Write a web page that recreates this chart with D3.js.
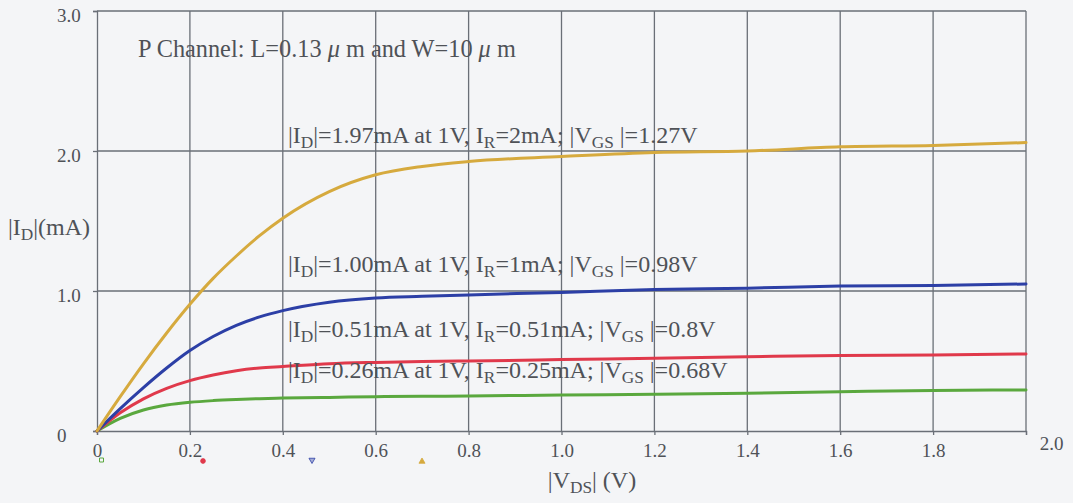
<!DOCTYPE html>
<html>
<head>
<meta charset="utf-8">
<script src="https://cdn.jsdelivr.net/npm/d3@7/dist/d3.min.js"></script>
<style>
  html, body { margin: 0; padding: 0; background: #f4f5f7; }
  svg { display: block; }
  text { font-family: "Liberation Serif", "Times New Roman", serif; }
</style>
</head>
<body>
<svg id="chart" width="1073" height="503"></svg>
<script>
// ---- data ----
const vds = [0, 0.05, 0.1, 0.15, 0.2, 0.25, 0.3, 0.35, 0.4, 0.5, 0.6, 0.7, 0.8, 1.0, 1.2, 1.4, 1.6, 1.8, 2.0];
const idOrange = [0, 0.245, 0.48, 0.70, 0.905, 1.09, 1.25, 1.395, 1.52, 1.71, 1.83, 1.89, 1.925, 1.96, 1.99, 2.00, 2.03, 2.04, 2.06];
const idBlue   = [0, 0.16, 0.31, 0.45, 0.575, 0.675, 0.755, 0.815, 0.86, 0.92, 0.95, 0.962, 0.972, 0.99, 1.01, 1.02, 1.035, 1.04, 1.05];
const idRed    = [0, 0.13, 0.23, 0.305, 0.36, 0.40, 0.43, 0.45, 0.46, 0.48, 0.49, 0.497, 0.50, 0.51, 0.52, 0.53, 0.54, 0.543, 0.55];
const idGreen  = [0, 0.09, 0.15, 0.185, 0.205, 0.217, 0.225, 0.231, 0.235, 0.24, 0.245, 0.248, 0.25, 0.257, 0.262, 0.27, 0.28, 0.29, 0.293];
const seriesNames = ["IR=0.25mA", "IR=0.51mA", "IR=1mA", "IR=2mA"];
const xTicks = [0, 0.2, 0.4, 0.6, 0.8, 1.0, 1.2, 1.4, 1.6, 1.8, 2.0];
const yTicks = [0, 1, 2, 3];
const xTickLabels = ["0", "0.2", "0.4", "0.6", "0.8", "1.0", "1.2", "1.4", "1.6", "1.8", "2.0"];
const yTickLabels = ["0", "1.0", "2.0", "3.0"];
const annotations = [
  [["|I",""],["D","sub"],["|=1.97mA at 1V, I",""],["R","sub"],["=2mA; |V",""],["GS","sub"],[" |=1.27V",""]],
  [["|I",""],["D","sub"],["|=1.00mA at 1V, I",""],["R","sub"],["=1mA; |V",""],["GS","sub"],[" |=0.98V",""]],
  [["|I",""],["D","sub"],["|=0.51mA at 1V, I",""],["R","sub"],["=0.51mA; |V",""],["GS","sub"],[" |=0.8V",""]],
  [["|I",""],["D","sub"],["|=0.26mA at 1V, I",""],["R","sub"],["=0.25mA; |V",""],["GS","sub"],[" |=0.68V",""]]
];
const titleParts = [["P Channel: L=0.13 ",""],["\u03BC","it"],[" m and W=10 ",""],["\u03BC","it"],[" m",""]];
const yTitle = [["|I",""],["D","sub"],["|(mA)",""]];
const xTitle = [["|V",""],["DS","sub"],["| (V)",""]];

// ---- layout ----
const svg = d3.select("#chart");
const W = 1073, H = 503;
const x = d3.scaleLinear().domain([0, 2]).range([97, 1026]);
const y = d3.scaleLinear().domain([0, 3]).range([431, 11]);
const gridColor = "#6a6f77";
const textColor = "#4f5257";

svg.append("rect").attr("width", W).attr("height", H).attr("fill", "#f4f5f7");

// grid
const grid = svg.append("g");
grid.selectAll("line.v").data(xTicks.slice(1)).join("line")
  .attr("x1", d => x(d)).attr("x2", d => x(d))
  .attr("y1", y(3)).attr("y2", y(0))
  .attr("stroke", gridColor).attr("stroke-width", 1.3);
grid.selectAll("line.h").data(yTicks.slice(1)).join("line")
  .attr("x1", x(0)).attr("x2", x(2))
  .attr("y1", d => y(d)).attr("y2", d => y(d))
  .attr("stroke", gridColor).attr("stroke-width", 1.3);

// axes
const xAxis = svg.append("g").attr("transform", `translate(0,${y(0)})`)
  .call(d3.axisBottom(x).tickValues(xTicks).tickSize(4).tickPadding(9)
        .tickFormat((d, i) => xTickLabels[i]));
const yAxis = svg.append("g").attr("transform", `translate(${x(0)},0)`)
  .call(d3.axisLeft(y).tickValues(yTicks).tickSize(4).tickPadding(0)
        .tickFormat((d, i) => yTickLabels[i]));
[xAxis, yAxis].forEach(a => {
  a.attr("font-family", "Liberation Serif, serif");
  a.select(".domain").attr("stroke", gridColor).attr("stroke-width", 1.3);
  a.selectAll(".tick line").attr("stroke", gridColor).attr("stroke-width", 1.3);
  a.selectAll(".tick text").attr("fill", textColor).attr("font-size", 19)
    .attr("font-family", "Liberation Serif, serif");
});
xAxis.selectAll(".tick text").filter(d => d === 2)
  .attr("x", 25).attr("y", 6);
yAxis.selectAll(".tick text").attr("text-anchor", "start").attr("x", 57 - x(0)).attr("dy", "0.55em");

// lines
const colors = ["#5aa83e", "#e0394b", "#2c3fa6", "#d6aa3e"];
const seriesData = [idGreen, idRed, idBlue, idOrange];
const line = d3.line().x(d => x(d[0])).y(d => y(d[1])).curve(d3.curveMonotoneX);
svg.append("g").selectAll("path").data(seriesData).join("path")
  .attr("d", s => line(vds.map((v, i) => [v, s[i]])))
  .attr("fill", "none").attr("stroke", (d, i) => colors[i]).attr("stroke-width", 3)
  .attr("stroke-linejoin", "round").attr("stroke-linecap", "round");

// rich text helper
function rich(g, parts, px, py, size, anchor) {
  const t = g.append("text").attr("x", px).attr("y", py).attr("font-size", size)
    .attr("fill", textColor).attr("text-anchor", anchor || "start");
  let shift = 0;
  parts.forEach(([s, kind]) => {
    const ts = t.append("tspan").text(s);
    if (kind === "sub") {
      const sh = size * 0.22;
      ts.attr("font-size", size * 0.72).attr("dy", sh - shift);
      shift = sh;
    } else {
      if (shift !== 0) { ts.attr("dy", -shift); shift = 0; }
      if (kind === "it") ts.attr("font-style", "italic");
    }
  });
  return t;
}

const ann = svg.append("g");
rich(ann, titleParts, 138, 57, 24.3);
const annY = [143, 272, 337, 378];
annotations.forEach((p, i) => rich(ann, p, 288, annY[i], 24));
rich(ann, yTitle, 8, 235, 24);
rich(ann, xTitle, 592, 488, 24, "middle");

// legend markers below axis
const markerX = [101.5, 203, 312, 422];
const markerY = [460, 461, 460, 461.5];
const symTypes = [d3.symbolSquare, d3.symbolCircle, d3.symbolTriangle, d3.symbolTriangle];
const lg = svg.append("g");
seriesNames.forEach((n, i) => {
  const p = lg.append("path")
    .attr("d", d3.symbol().type(symTypes[i]).size(i === 1 ? 18 : 16)())
    .attr("transform", `translate(${markerX[i]},${markerY[i]})` + (i === 2 ? " rotate(180)" : ""));
  if (i === 0) p.attr("fill", "none").attr("stroke", colors[i]).attr("stroke-width", 1);
  else p.attr("fill", colors[i]).attr("fill-opacity", i === 2 ? 0.4 : 1).attr("stroke", colors[i]).attr("stroke-width", 0.8);
});
</script>
</body>
</html>
